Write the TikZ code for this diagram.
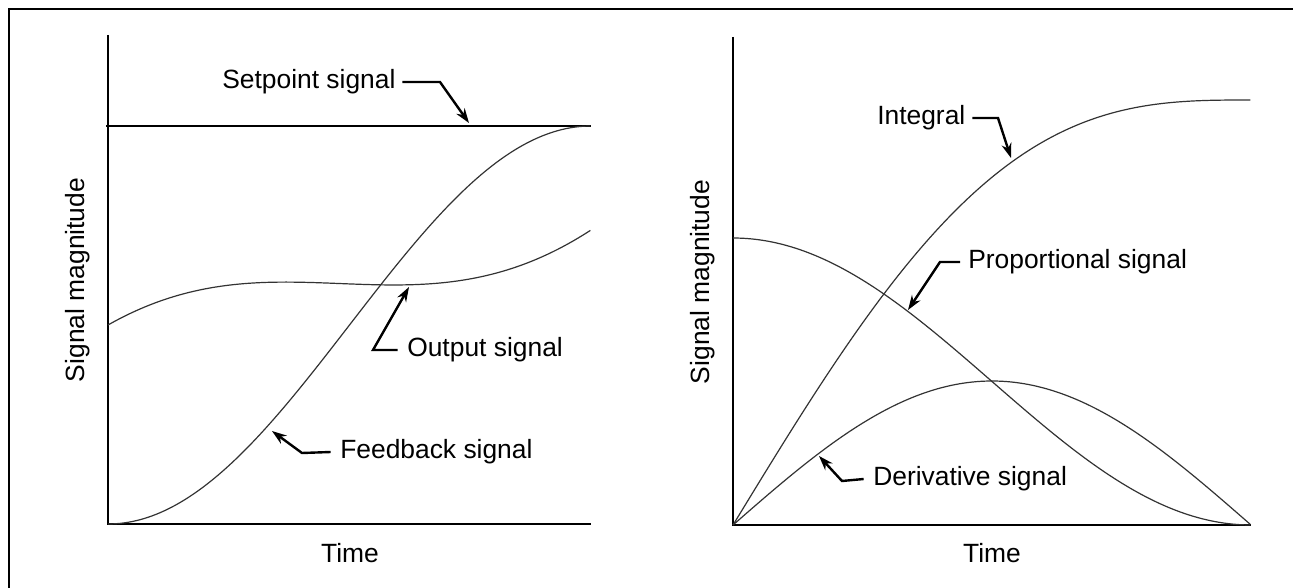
\documentclass[tikz,border=0pt]{standalone}
\usepackage{fontspec}
\setmainfont{Liberation Sans}
\usetikzlibrary{positioning, arrows.meta}

\begin{document}
\begin{tikzpicture}[x=0.75pt, y=-0.75pt, >=Stealth,
    axis/.style={line width=1.6pt},
    curve/.style={line width=0.9pt, draw=black!80, samples=120, smooth},
    lead/.style={line width=1.8pt, -{Stealth[length=11pt, width=7.5pt]}},
    lbl/.style={font=\fontsize{19.8}{23}\selectfont, inner sep=0pt}]

    \useasboundingbox (0,0) rectangle (1293,588);

    % frame
    \draw[line width=1.9pt] (9,588) -- (9,9) -- (1293,9);

    % left plot: axes and curves
    \draw[axis] (108,35) -- (108,524) -- (591,524);
    \draw[line width=1.1pt] (106,126) -- (591,126);
    \draw[curve] plot[domain=0:1] ({108+483*\x}, {524-398*(1-cos(180*\x))/2});
    \draw[curve] plot[domain=0:1] ({108+483*\x},
        {524-(199*(1+cos(180*\x))/2 + 294*(\x+sin(180*\x)/pi) - 100*sin(180*\x))});

    \node[lbl] (timeL) at (350,553) {Time};
    \node[lbl, rotate=90] (magL) at (78,280) {Signal magnitude};

    % left plot labels
    \node[lbl, anchor=west] (setlbl) at (222,82) {Setpoint signal};
    \coordinate (setbend) at (440,82);
    \coordinate (settip) at (469,123);
    \draw[lead] ([xshift=5pt]setlbl.east) -- (setbend) -- (settip);

    \node[lbl, anchor=west] (outlbl) at (407,350) {Output signal};
    \coordinate (outbend) at (373,350);
    \coordinate (outtip) at (409,287);
    \draw[lead] ([xshift=-7pt]outlbl.west) -- (outbend) -- (outtip);

    \node[lbl, anchor=west] (fblbl) at (340,452) {Feedback signal};
    \coordinate (fbbend) at (302,453);
    \coordinate (fbtip) at (272,431);
    \draw[lead] ([xshift=-7pt]fblbl.west) -- (fbbend) -- (fbtip);

    % right plot: axes and curves
    \draw[axis] (733,37) -- (733,525) -- (1251,525);
    \draw[curve] plot[domain=0:1] ({733+518*\x}, {525-425*(\x+sin(180*\x)/pi)});
    \draw[curve] plot[domain=0:1] ({733+518*\x}, {525-287*(1+cos(180*\x))/2});
    \draw[curve] plot[domain=0:1] ({733+518*\x}, {525-144*sin(180*\x)});

    \node[lbl] (timeR) at (992,553) {Time};
    \node[lbl, rotate=90] (magR) at (703,282) {Signal magnitude};

    % right plot labels
    \node[lbl, anchor=west] (intlbl) at (877,118) {Integral};
    \coordinate (intbend) at (998,118);
    \coordinate (inttip) at (1011,158);
    \draw[lead] ([xshift=5pt]intlbl.east) -- (intbend) -- (inttip);

    \node[lbl, anchor=west] (proplbl) at (968,262) {Proportional signal};
    \coordinate (propbend) at (940,262);
    \coordinate (proptip) at (908,310);
    \draw[lead] ([xshift=-6pt]proplbl.west) -- (propbend) -- (proptip);

    \node[lbl, anchor=west] (derlbl) at (873,479) {Derivative signal};
    \coordinate (derbend) at (842,481);
    \coordinate (dertip) at (819,456);
    \draw[lead] ([xshift=-7pt]derlbl.west) -- (derbend) -- (dertip);

\end{tikzpicture}
\end{document}
